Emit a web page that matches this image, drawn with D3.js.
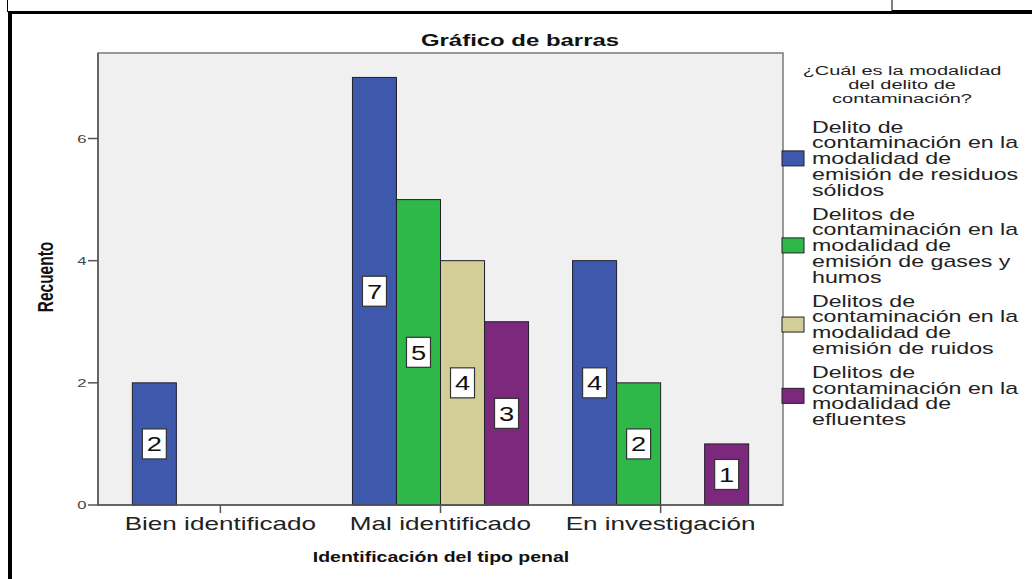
<!DOCTYPE html>
<html>
<head>
<meta charset="utf-8">
<script src="https://cdn.jsdelivr.net/npm/d3@7"></script>
<style>
  html, body { margin: 0; padding: 0; background: #ffffff; }
  svg { display: block; font-family: "Liberation Sans", Arial, sans-serif; }
</style>
</head>
<body>
<svg id="chart" width="1032" height="579"></svg>
<script>
// Categories on the x axis
const categories = ["Bien identificado", "Mal identificado", "En investigación"];

// Counts per category for each modality
const residuosSolidos = [2, 7, 4];
const gasesHumos = [0, 5, 2];
const ruidos = [0, 4, 0];
const efluentes = [0, 3, 1];

const seriesKeys = ["residuos", "gases", "ruidos", "efluentes"];
const seriesValues = [residuosSolidos, gasesHumos, ruidos, efluentes];
const seriesColors = ["#3e58ac", "#2eb848", "#d3ce97", "#7c287d"];

// Legend labels, one entry per line
const seriesLabels = [
  ["Delito de", "contaminación en la", "modalidad de", "emisión de residuos", "sólidos"],
  ["Delitos de", "contaminación en la", "modalidad de", "emisión de gases y", "humos"],
  ["Delitos de", "contaminación en la", "modalidad de", "emisión de ruidos"],
  ["Delitos de", "contaminación en la", "modalidad de", "efluentes"]
];
const legendTitle = ["¿Cuál es la modalidad", "del delito de", "contaminación?"];

const yTicks = [0, 2, 4, 6];
const yMax = 7.4;

const chartTitle = "Gráfico de barras";
const xTitle = "Identificación del tipo penal";
const yTitle = "Recuento";

// Horizontal stretch applied to every text run
const SX = 1.45;

const svg = d3.select("#chart");

// Surrounding document frame
svg.append("line").attr("x1", 7.5).attr("x2", 7.5).attr("y1", 0).attr("y2", 12).attr("stroke", "#000").attr("stroke-width", 1);
svg.append("line").attr("x1", 892).attr("x2", 892).attr("y1", 0).attr("y2", 12).attr("stroke", "#000").attr("stroke-width", 1);
svg.append("line").attr("x1", 8).attr("x2", 1032).attr("y1", 12.5).attr("y2", 12.5).attr("stroke", "#000").attr("stroke-width", 3);
svg.append("line").attr("x1", 892).attr("x2", 1032).attr("y1", 11.5).attr("y2", 11.5).attr("stroke", "#000").attr("stroke-width", 3);
svg.append("line").attr("x1", 10).attr("x2", 10).attr("y1", 11).attr("y2", 579).attr("stroke", "#000").attr("stroke-width", 4);

const plot = { left: 98, right: 783, top: 53, bottom: 505 };

const x = d3.scaleBand()
  .domain(categories)
  .range([plot.left, plot.right])
  .paddingInner(0.2)
  .paddingOuter(0.156);

const xs = d3.scaleBand()
  .domain(seriesKeys)
  .range([0, x.bandwidth()]);

const y = d3.scaleLinear()
  .domain([0, yMax])
  .range([plot.bottom, plot.top]);

function stretchedText(sel, px, py, anchor, sx) {
  return sel.attr("transform", `translate(${px},${py}) scale(${sx || SX},1)`)
    .attr("text-anchor", anchor || "middle");
}

// Plot background
svg.append("rect")
  .attr("x", plot.left).attr("y", plot.top)
  .attr("width", plot.right - plot.left).attr("height", plot.bottom - plot.top)
  .attr("fill", "#f0f0f0").attr("stroke", "#7a7a7a").attr("stroke-width", 1.5);

// Bars
const groups = svg.append("g").selectAll("g")
  .data(categories)
  .join("g")
  .attr("transform", d => `translate(${x(d)},0)`);

const barData = (cat, ci) => seriesKeys.map((k, si) => ({ key: k, si, value: seriesValues[si][ci] }))
  .filter(d => d.value > 0);

groups.each(function (cat, ci) {
  const g = d3.select(this);
  const data = barData(cat, ci);
  g.selectAll("rect.bar")
    .data(data)
    .join("rect")
    .attr("class", "bar")
    .attr("x", d => xs(d.key))
    .attr("y", d => y(d.value))
    .attr("width", xs.bandwidth())
    .attr("height", d => y(0) - y(d.value))
    .attr("fill", d => seriesColors[d.si])
    .attr("stroke", "#1f1f2a")
    .attr("stroke-width", 1);

  const lab = g.selectAll("g.lab")
    .data(data)
    .join("g")
    .attr("class", "lab")
    .attr("transform", d => `translate(${xs(d.key) + xs.bandwidth() / 2},${y(d.value / 2)})`);
  lab.append("rect")
    .attr("x", -12).attr("y", -15).attr("width", 24).attr("height", 30)
    .attr("fill", "#ffffff").attr("stroke", "#333333").attr("stroke-width", 1.2);
  lab.append("text")
    .attr("transform", `scale(1.3,1)`)
    .attr("text-anchor", "middle")
    .attr("dy", "0.36em")
    .attr("font-size", 21)
    .attr("fill", "#111")
    .text(d => d.value);
});

// Y axis
const yAxis = svg.append("g").attr("transform", `translate(${plot.left},0)`);
yAxis.append("line").attr("x1", 0).attr("x2", 0).attr("y1", plot.top).attr("y2", plot.bottom)
  .attr("stroke", "#555").attr("stroke-width", 1.5);
yAxis.selectAll("line.tick").data(yTicks).join("line")
  .attr("class", "tick")
  .attr("x1", -10).attr("x2", 0)
  .attr("y1", d => y(d)).attr("y2", d => y(d))
  .attr("stroke", "#555").attr("stroke-width", 1.5);
yAxis.selectAll("text").data(yTicks).join("text")
  .each(function (d) { stretchedText(d3.select(this), -16, y(d), "middle"); })
  .attr("dy", "0.36em")
  .attr("font-size", 11.5)
  .attr("fill", "#444")
  .text(d => d);

// X axis
const xAxis = svg.append("g").attr("transform", `translate(0,${plot.bottom})`);
xAxis.append("line").attr("x1", plot.left).attr("x2", plot.right).attr("y1", 0).attr("y2", 0)
  .attr("stroke", "#555").attr("stroke-width", 1.5);
xAxis.selectAll("line.tick").data(categories).join("line")
  .attr("class", "tick")
  .attr("x1", d => x(d) + x.bandwidth() / 2).attr("x2", d => x(d) + x.bandwidth() / 2)
  .attr("y1", 0).attr("y2", 8)
  .attr("stroke", "#555").attr("stroke-width", 1.5);
xAxis.selectAll("text").data(categories).join("text")
  .each(function (d) { stretchedText(d3.select(this), x(d) + x.bandwidth() / 2, 19, "middle"); })
  .attr("dy", "0.36em")
  .attr("font-size", 18)
  .attr("fill", "#222")
  .text(d => d);

// Axis titles
stretchedText(svg.append("text"), 441, 557, "middle", 1.3)
  .attr("dy", "0.36em")
  .attr("font-size", 15)
  .attr("font-weight", "bold")
  .attr("fill", "#111")
  .text(xTitle);

svg.append("text")
  .attr("transform", `translate(45,277) scale(${SX},1) rotate(-90)`)
  .attr("text-anchor", "middle")
  .attr("dy", "0.36em")
  .attr("font-size", 15.5)
  .attr("font-weight", "bold")
  .attr("fill", "#111")
  .text(yTitle);

// Chart title
stretchedText(svg.append("text"), 520, 40, "middle")
  .attr("dy", "0.36em")
  .attr("font-size", 16.5)
  .attr("font-weight", "bold")
  .attr("fill", "#111")
  .text(chartTitle);

// Legend
const legend = svg.append("g");
legend.selectAll("text.ltitle").data(legendTitle).join("text")
  .attr("class", "ltitle")
  .each(function (d, i) { stretchedText(d3.select(this), 902, 70 + i * 14, "middle", 1.6); })
  .attr("dy", "0.36em")
  .attr("font-size", 12.5)
  .attr("fill", "#222")
  .text(d => d);

const lineH = 15.7;
const groupGap = 8.5;
let cursor = 127;
seriesLabels.forEach((lines, si) => {
  const top = cursor;
  const center = top + (lines.length - 1) * lineH / 2;
  legend.append("rect")
    .attr("x", 782).attr("y", center - 7.5)
    .attr("width", 22).attr("height", 15)
    .attr("fill", seriesColors[si]).attr("stroke", "#1f1f2a").attr("stroke-width", 1);
  lines.forEach((ln, li) => {
    stretchedText(legend.append("text"), 812, top + li * lineH, "start")
      .attr("dy", "0.36em")
      .attr("font-size", 16)
      .attr("fill", "#222")
      .text(ln);
  });
  cursor = top + lines.length * lineH + groupGap;
});
</script>
</body>
</html>
